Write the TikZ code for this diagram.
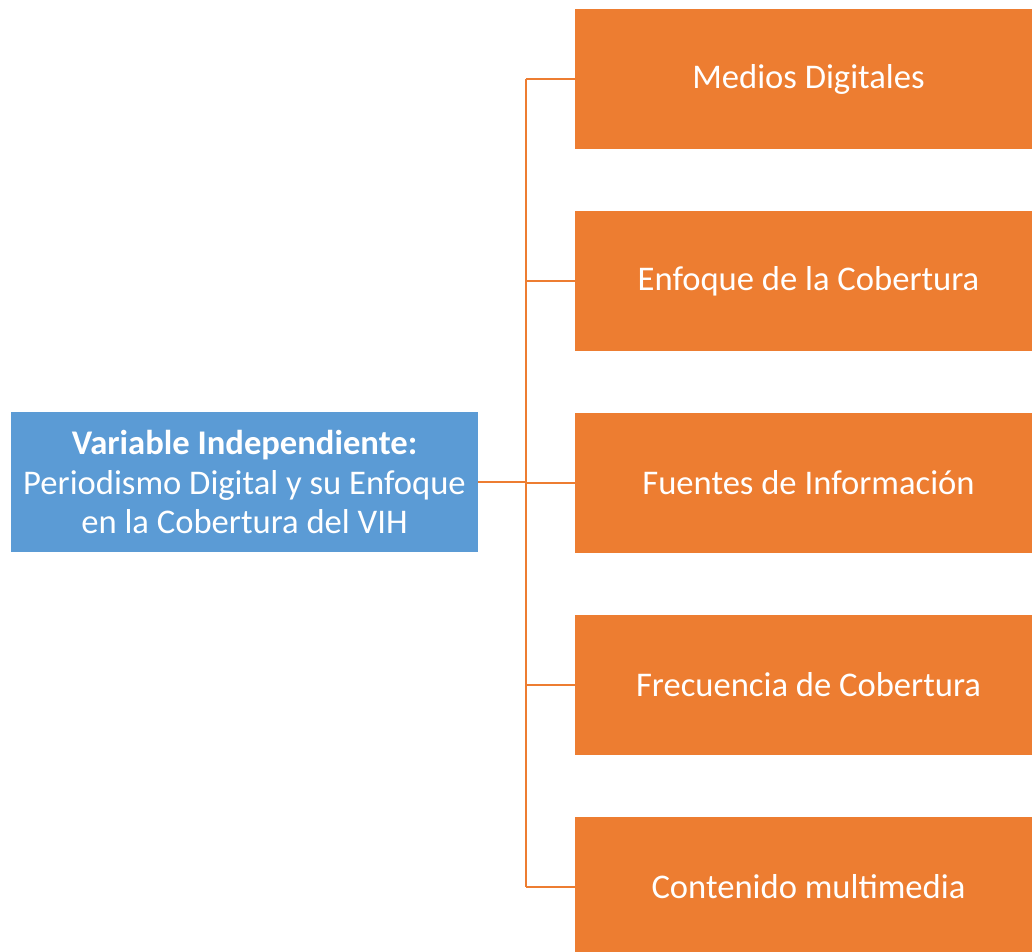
\documentclass[tikz,border=0pt]{standalone}
\usepackage{fontspec}
\setmainfont{Carlito}
\definecolor{boxblue}{HTML}{5B9BD5}
\definecolor{boxorange}{HTML}{ED7D31}
\tikzset{
  root/.style={fill=boxblue, draw=none, minimum width=467pt, minimum height=140pt, text=white, align=center, font=\fontsize{34.6}{39.5}\selectfont, inner sep=0pt},
  leaf/.style={fill=boxorange, draw=none, minimum width=467pt, minimum height=140pt, text=white, align=center, font=\fontsize{34.6}{39.5}\selectfont, inner sep=0pt},
  link/.style={draw=boxorange, line width=2pt}
}
\begin{document}
\begin{tikzpicture}[x=1pt,y=-1pt]
\useasboundingbox (0,0) rectangle (1032,951);
\begin{scope}
\clip (0,0) rectangle (1032,951);
\node[root] (v) at (244.5,482) {\textbf{Variable Independiente:}\\Periodismo Digital y su Enfoque\\en la Cobertura del VIH};
\node[leaf] (a) at (808.5,79) {Medios Digitales};
\node[leaf] (b) at (808.5,281) {Enfoque de la Cobertura};
\node[leaf] (c) at (808.5,483) {Fuentes de Información};
\node[leaf] (d) at (808.5,685) {Frecuencia de Cobertura};
\node[leaf] (e) at (808.5,887) {Contenido multimedia};
\end{scope}
\coordinate (j) at (526,482);
\draw[link] (v.east) -- (j);
\foreach \n in {a,b,c,d,e} \draw[link] (\n.west) -- (\n.west -| j);
\draw[link] (a.west -| j) -- (e.west -| j);
\end{tikzpicture}
\end{document}
